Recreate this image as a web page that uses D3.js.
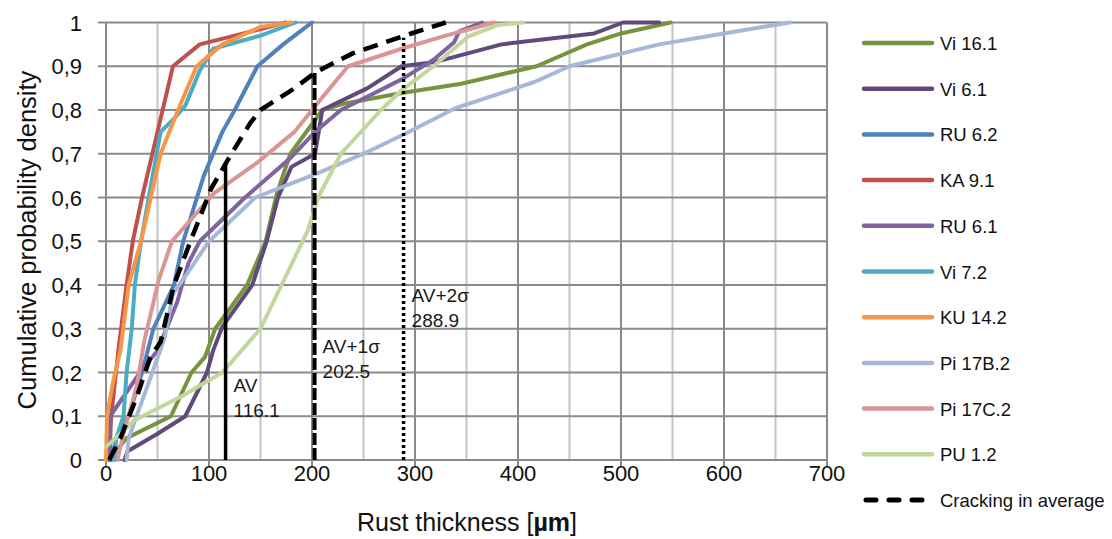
<!DOCTYPE html>
<html>
<head>
<meta charset="utf-8">
<script src="https://cdn.jsdelivr.net/npm/d3@7"></script>
<style>
  body { margin: 0; background: #fff; }
  svg { display: block; font-family: "Liberation Sans", Arial, sans-serif; }
</style>
</head>
<body>
<svg id="chart" width="1112" height="539"></svg>
<script>
// series: [rust thickness µm, cumulative probability]
const vi161 = [[3,0],[20,0.05],[63,0.1],[83,0.2],[96,0.235],[106,0.3],[137,0.4],[155,0.5],[166,0.61],[179,0.7],[210,0.8],[232,0.815],[290,0.84],[345,0.86],[418,0.9],[467,0.95],[500,0.975],[548,1]];
const vi61 = [[18,0],[21,0.02],[50,0.06],[77,0.1],[98,0.2],[104,0.25],[113,0.305],[142,0.4],[156,0.5],[167,0.6],[180,0.67],[203,0.7],[210,0.8],[254,0.85],[287,0.9],[320,0.91],[384,0.95],[474,0.975],[502,1],[537,1]];
const ru62 = [[5,0],[10,0.05],[22,0.1],[35,0.2],[46,0.3],[66,0.4],[75,0.5],[95,0.65],[113,0.75],[125,0.8],[147,0.9],[172,0.95],[186,0.975],[200,1]];
const ka91 = [[3,0],[5,0.1],[12,0.25],[20,0.4],[26,0.5],[35,0.6],[50,0.75],[65,0.9],[91,0.95],[125,0.97],[175,1]];
const ru61 = [[4,0],[4,0.1],[33,0.2],[50,0.25],[69,0.36],[80,0.45],[91,0.5],[135,0.6],[179,0.69],[203,0.75],[228,0.8],[287,0.87],[318,0.915],[338,0.955],[343,0.98],[365,1]];
const vi72 = [[8,0],[10,0.05],[17,0.1],[20,0.2],[25,0.3],[28,0.4],[34,0.5],[43,0.62],[53,0.75],[66,0.78],[77,0.81],[91,0.89],[104,0.94],[150,0.97],[184,1]];
const ku142 = [[0,0],[1,0.1],[7,0.18],[14,0.25],[22,0.4],[34,0.5],[53,0.7],[70,0.8],[88,0.9],[113,0.95],[150,0.99],[180,1]];
const pi17b2 = [[20,0],[22,0.05],[45,0.2],[57,0.28],[65,0.38],[80,0.43],[100,0.5],[145,0.6],[205,0.655],[250,0.7],[290,0.745],[340,0.805],[416,0.864],[450,0.9],[537,0.95],[600,0.975],[664,1]];
const pi17c2 = [[11,0],[17,0.06],[30,0.17],[37,0.27],[51,0.41],[64,0.5],[105,0.61],[147,0.68],[183,0.75],[200,0.8],[235,0.9],[287,0.94],[330,0.97],[377,1]];
const pu12 = [[0,0.03],[14,0.06],[27,0.09],[73,0.145],[113,0.2],[150,0.3],[196,0.525],[206,0.6],[228,0.7],[267,0.8],[287,0.845],[318,0.9],[351,0.967],[380,0.994],[405,1]];
const crackAvg = [[3,0],[14,0.05],[30,0.145],[43,0.235],[53,0.27],[66,0.4],[82,0.5],[102,0.62],[118,0.685],[140,0.77],[150,0.8],[180,0.845],[204,0.887],[240,0.93],[290,0.97],[330,1]];

const seriesNames = ["Vi 16.1","Vi 6.1","RU 6.2","KA 9.1","RU 6.1","Vi 7.2","KU 14.2","Pi 17B.2","Pi 17C.2","PU 1.2"];
const seriesData = [vi161, vi61, ru62, ka91, ru61, vi72, ku142, pi17b2, pi17c2, pu12];
const seriesColors = ["#77933c","#604a7b","#4f81bd","#c0504d","#8064a2","#4bacc6","#f79646","#a5b8d8","#d99694","#c3d69b"];

// AV markers: value, height the line reaches, label
const markerNames = ["AV", "AV+1σ", "AV+2σ"];
const markerValues = [116.1, 202.5, 288.9];
const markerTops = [0.68, 0.887, 0.965];

const xTicks = [0,100,200,300,400,500,600,700];
const yTicks = [0,0.1,0.2,0.3,0.4,0.5,0.6,0.7,0.8,0.9,1];
const yTickLabels = ["0","0,1","0,2","0,3","0,4","0,5","0,6","0,7","0,8","0,9","1"];

const svg = d3.select("#chart");
const x = d3.scaleLinear().domain([0, 700]).range([106, 827]);
const y = d3.scaleLinear().domain([0, 1]).range([460, 22.5]);

// gridlines
const grid = svg.append("g");
grid.selectAll(".vminor")
    .data(d3.range(50, 700, 100))
    .enter().append("line")
    .attr("x1", d => x(d)).attr("x2", d => x(d))
    .attr("y1", y(0)).attr("y2", y(1))
    .attr("stroke", "#c4c4c4").attr("stroke-width", 2);
grid.selectAll(".vmajor")
    .data(xTicks)
    .enter().append("line")
    .attr("x1", d => x(d)).attr("x2", d => x(d))
    .attr("y1", y(0)).attr("y2", y(1))
    .attr("stroke", "#8a8a8a").attr("stroke-width", 2);
grid.selectAll(".h")
    .data(yTicks)
    .enter().append("line")
    .attr("x1", x(0) - 8).attr("x2", x(700))
    .attr("y1", d => y(d)).attr("y2", d => y(d))
    .attr("stroke", "#8a8a8a").attr("stroke-width", 2);
// x tick marks below the axis
grid.selectAll(".xt")
    .data(xTicks)
    .enter().append("line")
    .attr("x1", d => x(d)).attr("x2", d => x(d))
    .attr("y1", y(0)).attr("y2", y(0) + 7)
    .attr("stroke", "#8a8a8a").attr("stroke-width", 2);

// tick labels
svg.append("g").selectAll("text")
    .data(yTicks)
    .enter().append("text")
    .attr("x", 82)
    .attr("y", d => y(d) + 8)
    .attr("text-anchor", "end")
    .attr("font-size", 22)
    .attr("fill", "#111")
    .text((d, i) => yTickLabels[i]);

svg.append("g").selectAll("text")
    .data(xTicks)
    .enter().append("text")
    .attr("x", d => x(d))
    .attr("y", 481)
    .attr("text-anchor", "middle")
    .attr("font-size", 22)
    .attr("fill", "#111")
    .text(d => d);

// axis titles
const xt = svg.append("text")
    .attr("x", 467).attr("y", 531)
    .attr("text-anchor", "middle")
    .attr("font-size", 25)
    .attr("fill", "#111")
    .text("Rust thickness [");
xt.append("tspan").attr("font-weight", "bold").text("µm");
xt.append("tspan").text("]");

svg.append("text")
    .attr("transform", "translate(36,240) rotate(-90)")
    .attr("text-anchor", "middle")
    .attr("font-size", 25.5)
    .attr("fill", "#111")
    .text("Cumulative probability density");

// series
const line = d3.line().x(d => x(d[0])).y(d => y(d[1]));
svg.append("g").selectAll("path")
    .data(seriesData)
    .enter().append("path")
    .attr("d", line)
    .attr("fill", "none")
    .attr("stroke", (d, i) => seriesColors[i])
    .attr("stroke-width", 4)
    .attr("stroke-linejoin", "round")
    .attr("stroke-linecap", "round");

svg.append("path")
    .attr("d", line(crackAvg))
    .attr("fill", "none")
    .attr("stroke", "#000")
    .attr("stroke-width", 4.5)
    .attr("stroke-dasharray", "15,9")
    .attr("stroke-linejoin", "round");

// AV marker lines
const dashes = [null, "12,3", "3,3"];
const widths = [3.5, 4, 3.5];
markerValues.forEach((v, i) => {
    svg.append("line")
        .attr("x1", x(v)).attr("x2", x(v))
        .attr("y1", y(0)).attr("y2", y(markerTops[i]))
        .attr("stroke", "#000")
        .attr("stroke-width", widths[i])
        .attr("stroke-dasharray", dashes[i]);
});

const labelRows = [[392, 417], [353, 378], [302, 327]];
markerValues.forEach((v, i) => {
    const g = svg.append("g").attr("font-size", 19).attr("fill", "#1a1a1a");
    g.append("text").attr("x", x(v) + 8).attr("y", labelRows[i][0]).text(markerNames[i]);
    g.append("text").attr("x", x(v) + 8).attr("y", labelRows[i][1]).text(v.toFixed(1));
});

// legend
const legend = svg.append("g");
const legendNames = seriesNames.concat(["Cracking in average"]);
legendNames.forEach((name, i) => {
    const ly = 43 + i * 45.7;
    const ln = legend.append("line")
        .attr("x1", 864).attr("x2", 932)
        .attr("y1", ly).attr("y2", ly)
        .attr("stroke-width", 4.5)
        .attr("stroke-linecap", "round");
    if (i < seriesNames.length) {
        ln.attr("stroke", seriesColors[i]);
    } else {
        ln.attr("stroke", "#000").attr("stroke-width", 5)
          .attr("x1", 866).attr("x2", 924)
          .attr("stroke-dasharray", "10,13");
    }
    legend.append("text")
        .attr("x", 940)
        .attr("y", ly + 7)
        .attr("font-size", 18.5)
        .attr("fill", "#111")
        .text(name);
});
</script>
</body>
</html>
